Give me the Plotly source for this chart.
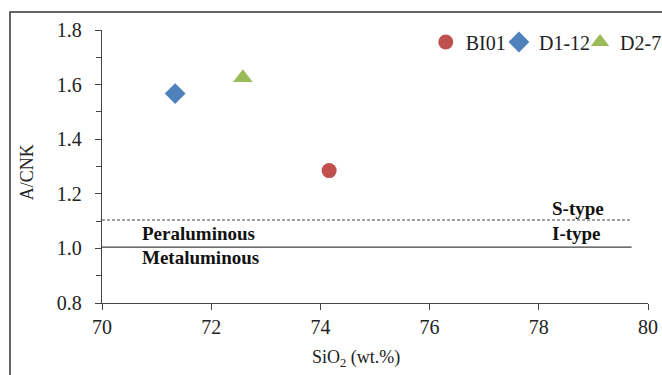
import plotly.graph_objects as go

# Data
samples = ["BI01", "D1-12", "D2-7"]
sio2 = [74.16, 71.34, 72.58]
acnk = [1.285, 1.567, 1.625]
colors = ["#C0504D", "#4F81BD", "#9BBB59"]
symbols = ["circle", "diamond", "triangle-up"]
sizes = [15, 16, 17]
legend_ids = ["legend", "legend2", "legend3"]
legend_x = [0.593, 0.727, 0.8755]

# Boundary lines
boundary_x = [70, 79.7]
peral_y = 1.005
stype_y = 1.104

x_ticks = [70, 72, 74, 76, 78, 80]
y_ticks = [0.8, 1.0, 1.2, 1.4, 1.6, 1.8]

FONT = "Liberation Serif, Times New Roman, serif"

fig = go.Figure()

fig.add_trace(go.Scatter(x=boundary_x, y=[peral_y, peral_y], mode="lines",
                         line=dict(color="#404040", width=1.3), showlegend=False, hoverinfo="skip"))
fig.add_trace(go.Scatter(x=boundary_x, y=[stype_y, stype_y], mode="lines",
                         line=dict(color="#404040", width=1, dash="3px,2px"), showlegend=False, hoverinfo="skip"))

for s, x, y, c, sym, sz, lg in zip(samples, sio2, acnk, colors, symbols, sizes, legend_ids):
    fig.add_trace(go.Scatter(x=[x], y=[y], mode="markers", name=s, legend=lg,
                             marker=dict(color=c, symbol=sym, size=sz, line=dict(width=0))))

ann_font = dict(family=FONT, size=19, color="#111")
fig.add_annotation(x=70.7, y=1.053, text="<b>Peraluminous</b>", showarrow=False,
                   xanchor="left", yanchor="middle", font=ann_font)
fig.add_annotation(x=70.7, y=0.965, text="<b>Metaluminous</b>", showarrow=False,
                   xanchor="left", yanchor="middle", font=ann_font)
fig.add_annotation(x=78.2, y=1.148, text="<b>S-type</b>", showarrow=False,
                   xanchor="left", yanchor="middle", font=ann_font)
fig.add_annotation(x=78.2, y=1.053, text="<b>I-type</b>", showarrow=False,
                   xanchor="left", yanchor="middle", font=ann_font)

# Axis titles
fig.add_annotation(xref="paper", yref="paper", x=0.465, y=-0.2015, text="SiO<sub>2</sub> (wt.%)",
                   showarrow=False, xanchor="center", yanchor="middle",
                   font=dict(family=FONT, size=18, color="#222"))
fig.add_annotation(xref="paper", yref="paper", x=-0.137, y=0.48, text="A/CNK", textangle=-90,
                   showarrow=False, xanchor="center", yanchor="middle",
                   font=dict(family=FONT, size=18, color="#222"))

# Outer frame
fig.add_shape(type="rect", xref="paper", yref="paper", x0=-0.1685, x1=1.2, y0=-0.5, y1=1.066,
              line=dict(color="#333", width=1.5), layer="below")

leg_common = dict(orientation="h", xanchor="left", y=0.956, yanchor="middle",
                  font=dict(family=FONT, size=20, color="#222"), bgcolor="rgba(0,0,0,0)",
                  itemwidth=30)

fig.update_layout(
    width=662, height=375,
    margin=dict(l=102, r=14, t=30, b=72, autoexpand=False),
    paper_bgcolor="white", plot_bgcolor="white",
    font=dict(family=FONT, size=20, color="#222"),
    showlegend=True,
    legend=dict(x=legend_x[0], **leg_common),
    legend2=dict(x=legend_x[1], **leg_common),
    legend3=dict(x=legend_x[2], **leg_common),
    xaxis=dict(range=[70, 80], tickvals=x_ticks, ticks="outside", ticklen=6, tickcolor="#444",
               showline=True, linecolor="#444", linewidth=1.3, showgrid=False, zeroline=False,
               automargin=False, tickfont=dict(family=FONT, size=20)),
    yaxis=dict(range=[0.8, 1.8], tickvals=y_ticks, tickformat=".1f", ticks="outside", ticklen=6,
               tickcolor="#444", showline=True, linecolor="#444", linewidth=1.3, showgrid=False,
               zeroline=False, automargin=False, tickfont=dict(family=FONT, size=20),
               ticklabelstandoff=9,
               minor=dict(dtick=0.1, ticks="outside", ticklen=5, tickcolor="#444")),
)

fig.write_html("out.html")
